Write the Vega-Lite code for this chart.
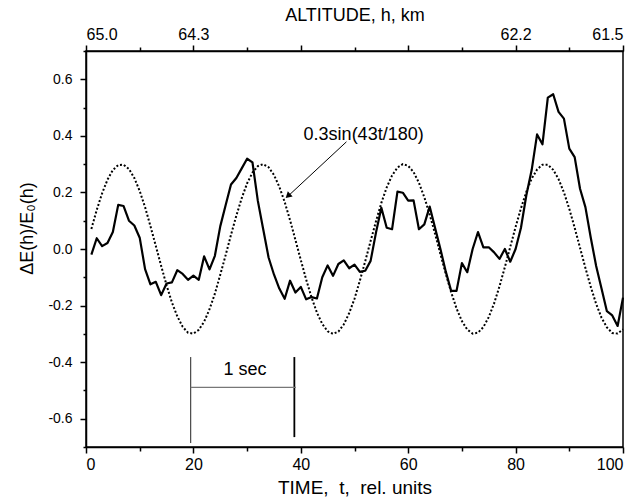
{
  "$schema": "https://vega.github.io/schema/vega-lite/v6.json",
  "width": 537,
  "height": 396,
  "autosize": "none",
  "padding": {"left": 86, "top": 51, "right": 14, "bottom": 56},
  "background": "white",
  "config": {
    "view": {"stroke": "black", "strokeWidth": 1.5},
    "axis": {
      "domainColor": "black", "tickColor": "black", "labelColor": "black", "titleColor": "black",
      "labelFont": "Liberation Sans", "titleFont": "Liberation Sans", "titleFontWeight": "normal",
      "grid": false, "domainWidth": 1.5, "tickWidth": 1.5, "labelOverlap": false
    },
    "text": {"font": "Liberation Sans"}
  },
  "datasets": {
    "obs": [
      {"t":1,"v":-0.02},{"t":2,"v":0.038},{"t":3,"v":0.01},{"t":4,"v":0.021},{"t":5,"v":0.06},
      {"t":6,"v":0.156},{"t":7,"v":0.152},{"t":8,"v":0.1},{"t":9,"v":0.083},{"t":10,"v":0.04},
      {"t":11,"v":-0.071},{"t":12,"v":-0.125},{"t":13,"v":-0.116},{"t":14,"v":-0.163},{"t":15,"v":-0.122},
      {"t":16,"v":-0.118},{"t":17,"v":-0.075},{"t":18,"v":-0.088},{"t":19,"v":-0.109},{"t":20,"v":-0.094},
      {"t":21,"v":-0.109},{"t":22,"v":-0.026},{"t":23,"v":-0.072},{"t":24,"v":-0.024},{"t":25,"v":0.08},
      {"t":26,"v":0.155},{"t":27,"v":0.228},{"t":28,"v":0.251},{"t":29,"v":0.285},{"t":30,"v":0.319},
      {"t":31,"v":0.306},{"t":32,"v":0.17},{"t":33,"v":0.07},{"t":34,"v":-0.03},{"t":35,"v":-0.09},
      {"t":36,"v":-0.14},{"t":37,"v":-0.176},{"t":38,"v":-0.112},{"t":39,"v":-0.154},{"t":40,"v":-0.134},
      {"t":41,"v":-0.178},{"t":42,"v":-0.17},{"t":43,"v":-0.175},{"t":44,"v":-0.1},{"t":45,"v":-0.058},
      {"t":46,"v":-0.095},{"t":47,"v":-0.053},{"t":48,"v":-0.04},{"t":49,"v":-0.068},{"t":50,"v":-0.055},
      {"t":51,"v":-0.081},{"t":52,"v":-0.077},{"t":53,"v":-0.042},{"t":54,"v":0.058},{"t":55,"v":0.146},
      {"t":56,"v":0.075},{"t":57,"v":0.07},{"t":58,"v":0.203},{"t":59,"v":0.199},{"t":60,"v":0.171},
      {"t":61,"v":0.172},{"t":62,"v":0.07},{"t":63,"v":0.087},{"t":64,"v":0.15},{"t":65,"v":0.075},
      {"t":66,"v":0.0},{"t":67,"v":-0.08},{"t":68,"v":-0.148},{"t":69,"v":-0.148},{"t":70,"v":-0.05},
      {"t":71,"v":-0.082},{"t":72,"v":0.0},{"t":73,"v":0.06},{"t":74,"v":0.006},{"t":75,"v":0.006},
      {"t":76,"v":-0.012},{"t":77,"v":-0.035},{"t":78,"v":0.0},{"t":79,"v":-0.045},{"t":80,"v":0.0},
      {"t":81,"v":0.075},{"t":82,"v":0.19},{"t":83,"v":0.28},{"t":84,"v":0.405},{"t":85,"v":0.37},
      {"t":86,"v":0.535},{"t":87,"v":0.547},{"t":88,"v":0.485},{"t":89,"v":0.461},{"t":90,"v":0.355},
      {"t":91,"v":0.325},{"t":92,"v":0.213},{"t":93,"v":0.148},{"t":94,"v":0.04},{"t":95,"v":-0.06},
      {"t":96,"v":-0.14},{"t":97,"v":-0.22},{"t":98,"v":-0.235},{"t":99,"v":-0.272},{"t":100,"v":-0.172}
    ],
    "sine": [
      {"t":1,"v":0.071},{"t":2,"v":0.138},{"t":3,"v":0.197},{"t":4,"v":0.245},{"t":5,"v":0.279},
      {"t":6,"v":0.297},{"t":7,"v":0.298},{"t":8,"v":0.283},{"t":9,"v":0.251},{"t":10,"v":0.205},
      {"t":11,"v":0.148},{"t":12,"v":0.081},{"t":13,"v":0.011},{"t":14,"v":-0.06},{"t":15,"v":-0.128},
      {"t":16,"v":-0.189},{"t":17,"v":-0.238},{"t":18,"v":-0.275},{"t":19,"v":-0.296},{"t":20,"v":-0.299},
      {"t":21,"v":-0.286},{"t":22,"v":-0.257},{"t":23,"v":-0.213},{"t":24,"v":-0.158},{"t":25,"v":-0.091},
      {"t":26,"v":-0.022},{"t":27,"v":0.05},{"t":28,"v":0.118},{"t":29,"v":0.18},{"t":30,"v":0.232},
      {"t":31,"v":0.27},{"t":32,"v":0.293},{"t":33,"v":0.3},{"t":34,"v":0.289},{"t":35,"v":0.262},
      {"t":36,"v":0.22},{"t":37,"v":0.166},{"t":38,"v":0.102},{"t":39,"v":0.032},{"t":40,"v":-0.039},
      {"t":41,"v":-0.108},{"t":42,"v":-0.171},{"t":43,"v":-0.225},{"t":44,"v":-0.265},{"t":45,"v":-0.291},
      {"t":46,"v":-0.3},{"t":47,"v":-0.292},{"t":48,"v":-0.267},{"t":49,"v":-0.227},{"t":50,"v":-0.176},
      {"t":51,"v":-0.112},{"t":52,"v":-0.043},{"t":53,"v":0.028},{"t":54,"v":0.098},{"t":55,"v":0.163},
      {"t":56,"v":0.218},{"t":57,"v":0.26},{"t":58,"v":0.288},{"t":59,"v":0.3},{"t":60,"v":0.294},
      {"t":61,"v":0.272},{"t":62,"v":0.234},{"t":63,"v":0.183},{"t":64,"v":0.122},{"t":65,"v":0.054},
      {"t":66,"v":-0.018},{"t":67,"v":-0.088},{"t":68,"v":-0.153},{"t":69,"v":-0.21},{"t":70,"v":-0.255},
      {"t":71,"v":-0.285},{"t":72,"v":-0.299},{"t":73,"v":-0.296},{"t":74,"v":-0.276},{"t":75,"v":-0.241},
      {"t":76,"v":-0.192},{"t":77,"v":-0.132},{"t":78,"v":-0.064},{"t":79,"v":0.007},{"t":80,"v":0.078},
      {"t":81,"v":0.144},{"t":82,"v":0.202},{"t":83,"v":0.249},{"t":84,"v":0.281},{"t":85,"v":0.298},
      {"t":86,"v":0.298},{"t":87,"v":0.28},{"t":88,"v":0.247},{"t":89,"v":0.2},{"t":90,"v":0.142},
      {"t":91,"v":0.075},{"t":92,"v":0.004},{"t":93,"v":-0.067},{"t":94,"v":-0.134},{"t":95,"v":-0.194},
      {"t":96,"v":-0.243},{"t":97,"v":-0.277},{"t":98,"v":-0.297},{"t":99,"v":-0.299},{"t":100,"v":-0.284}
    ],
    "formula": [{"t": 51.7, "v": 0.402, "label": "0.3sin(43t/180)"}],
    "arrow": [{"t": 48.5, "v": 0.379, "t2": 37.85, "v2": 0.191}],
    "arrowhead": [{"t": 37.75, "v": 0.19}],
    "bracketLeft": [{"t": 19.5, "v": -0.382, "t2": 19.5, "v2": -0.686}],
    "bracketRight": [{"t": 38.8, "v": -0.382, "t2": 38.8, "v2": -0.665}],
    "bracketBar": [{"t": 19.5, "v": -0.489, "t2": 39.1, "v2": -0.489}],
    "secLabel": [{"t": 29.6, "v": -0.429, "label": "1 sec"}]
  },
  "layer": [
    {
      "data": {"name": "obs"},
      "mark": {"type": "line", "color": "black", "strokeWidth": 2.2, "strokeJoin": "round"},
      "encoding": {
        "x": {
          "field": "t", "type": "quantitative",
          "scale": {"domain": [0, 100], "nice": false, "zero": false},
          "axis": {
            "orient": "bottom",
            "values": [0, 10, 20, 30, 40, 50, 60, 70, 80, 90, 100],
            "labelExpr": "datum.value % 20 === 0 ? datum.label : ''",
            "tickSize": {"condition": {"test": "datum.value % 20 === 0", "value": 6}, "value": 4},
            "labelFontSize": 16, "labelPadding": 3,
            "title": "TIME,\u00a0 t,\u00a0 rel. units", "titleFontSize": 19, "titlePadding": 6
          }
        },
        "y": {
          "field": "v", "type": "quantitative",
          "scale": {"domain": [-0.7, 0.7], "nice": false, "zero": false},
          "axis": {
            "orient": "left",
            "values": [-0.7, -0.6, -0.5, -0.4, -0.3, -0.2, -0.1, 0, 0.1, 0.2, 0.3, 0.4, 0.5, 0.6, 0.7],
            "labelExpr": "abs(round(datum.value*10)) % 2 === 0 ? replace(format(datum.value, '.1f'), '\u2212', '-') : ''",
            "tickSize": {"condition": {"test": "abs(round(datum.value*10)) % 2 === 0", "value": 6}, "value": 3},
            "labelFontSize": 14, "labelPadding": 8,
            "title": "ΔE(h)/E₀(h)", "titleFontSize": 18,
            "titleX": -54, "titleY": 177, "titleBaseline": "alphabetic"
          }
        }
      }
    },
    {
      "data": {"name": "sine"},
      "mark": {"type": "line", "color": "black", "strokeWidth": 2, "strokeDash": [2, 2]},
      "encoding": {
        "x": {
          "field": "t", "type": "quantitative",
          "axis": {
            "orient": "top",
            "values": [0, 10, 20, 30, 40, 50, 60, 70, 80, 90, 100],
            "labelExpr": "datum.value === 0 ? '65.0' : datum.value === 20 ? '64.3' : datum.value === 80 ? '62.2' : datum.value === 100 ? '61.5' : ''",
            "tickSize": {"condition": {"test": "datum.value % 20 === 0", "value": 6}, "value": 4},
            "labelFontSize": 16, "labelPadding": 3, "labelFlush": true,
            "title": "ALTITUDE, h, km", "titleFontSize": 18, "titlePadding": 2
          }
        },
        "y": {"field": "v", "type": "quantitative", "axis": null}
      }
    },
    {
      "data": {"name": "arrow"},
      "mark": {"type": "rule", "color": "black", "strokeWidth": 1},
      "encoding": {
        "x": {"field": "t", "type": "quantitative", "axis": null},
        "y": {"field": "v", "type": "quantitative", "axis": null},
        "x2": {"field": "t2"},
        "y2": {"field": "v2"}
      }
    },
    {
      "data": {"name": "arrowhead"},
      "mark": {"type": "point", "shape": "triangle", "filled": true, "color": "black", "opacity": 1, "size": 50, "angle": 227},
      "encoding": {
        "x": {"field": "t", "type": "quantitative", "axis": null},
        "y": {"field": "v", "type": "quantitative", "axis": null}
      }
    },
    {
      "data": {"name": "formula"},
      "mark": {"type": "text", "color": "black", "fontSize": 18, "align": "center", "baseline": "middle"},
      "encoding": {
        "x": {"field": "t", "type": "quantitative", "axis": null},
        "y": {"field": "v", "type": "quantitative", "axis": null},
        "text": {"field": "label"}
      }
    },
    {
      "data": {"name": "bracketLeft"},
      "mark": {"type": "rule", "color": "#222222", "strokeWidth": 1},
      "encoding": {
        "x": {"field": "t", "type": "quantitative", "axis": null},
        "y": {"field": "v", "type": "quantitative", "axis": null},
        "x2": {"field": "t2"},
        "y2": {"field": "v2"}
      }
    },
    {
      "data": {"name": "bracketRight"},
      "mark": {"type": "rule", "color": "black", "strokeWidth": 1.8},
      "encoding": {
        "x": {"field": "t", "type": "quantitative", "axis": null},
        "y": {"field": "v", "type": "quantitative", "axis": null},
        "x2": {"field": "t2"},
        "y2": {"field": "v2"}
      }
    },
    {
      "data": {"name": "bracketBar"},
      "mark": {"type": "rule", "color": "#777777", "strokeWidth": 1.2},
      "encoding": {
        "x": {"field": "t", "type": "quantitative", "axis": null},
        "y": {"field": "v", "type": "quantitative", "axis": null},
        "x2": {"field": "t2"},
        "y2": {"field": "v2"}
      }
    },
    {
      "data": {"name": "secLabel"},
      "mark": {"type": "text", "color": "black", "fontSize": 18, "align": "center", "baseline": "middle"},
      "encoding": {
        "x": {"field": "t", "type": "quantitative", "axis": null},
        "y": {"field": "v", "type": "quantitative", "axis": null},
        "text": {"field": "label"}
      }
    }
  ],
  "resolve": {"axis": {"x": "independent", "y": "independent"}}
}
